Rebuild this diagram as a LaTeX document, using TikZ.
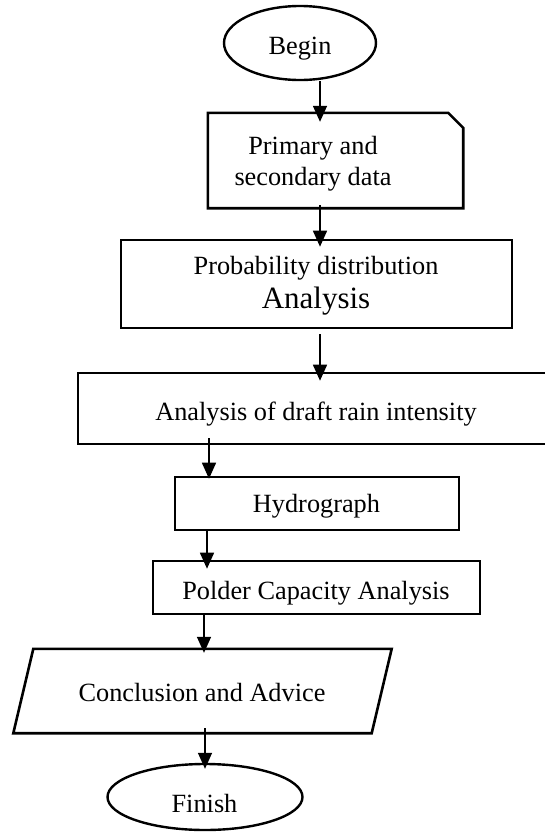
\documentclass[tikz,border=0pt]{standalone}
\usepackage{fontspec}
\setmainfont{Liberation Serif}
\usetikzlibrary{arrows.meta,shapes.geometric}
\begin{document}
\begin{tikzpicture}[x=1pt,y=-1pt,
  txt/.style={inner sep=0pt, anchor=base, font=\fontsize{26.3}{31}\selectfont},
  bigtxt/.style={txt, font=\fontsize{31}{36}\selectfont},
  frame/.style={draw, line width=2.6pt, inner sep=0pt},
  blank/.style={inner sep=0pt},
  oval/.style={draw, ellipse, line width=2.4pt, inner sep=0pt},
  arr/.style={line width=1.5pt, -{Triangle[width=14pt,length=16pt]}}]
\useasboundingbox (0,0) rectangle (544,833);

% start terminal
\node[oval, minimum width=152pt, minimum height=74pt] (begin) at (300,43) {};
\node[txt] (begin-t) at (300,54) {Begin};

% data box with a cut top-right corner
\node[blank, minimum width=255pt, minimum height=95pt] (data) at (335.5,160.5) {};
\draw[line width=2.6pt] (data.south west) -- (data.north west)
  -- ([xshift=-15pt]data.north east) -- ([yshift=-15pt]data.north east)
  -- (data.south east) -- cycle;
\node[txt] (data-t1) at (313,154) {Primary and};
\node[txt] (data-t2) at (313,185) {secondary data};

% process boxes
\node[frame, minimum width=391pt, minimum height=88pt] (prob) at (316.5,284) {};
\node[txt] (prob-t1) at (316,274) {Probability distribution};
\node[bigtxt] (prob-t2) at (316,308) {Analysis};

\node[frame, minimum width=478pt, minimum height=71pt] (rain) at (317,408.5) {};
\node[txt] (rain-t) at (316,420) {Analysis of draft rain intensity};

\node[frame, minimum width=284pt, minimum height=53pt] (hydro) at (317,503.5) {};
\node[txt] (hydro-t) at (316.5,512) {Hydrograph};

\node[frame, minimum width=327pt, minimum height=53pt] (polder) at (316.5,587.5) {};
\node[txt] (polder-t) at (316,599) {Polder Capacity Analysis};

% output parallelogram
\node[blank, minimum width=358pt, minimum height=84pt] (concl) at (202.5,691) {};
\draw[line width=2.6pt] ([xshift=10pt]concl.north west) -- ([xshift=10pt]concl.north east)
  -- ([xshift=-10pt]concl.south east) -- ([xshift=-10pt]concl.south west) -- cycle;
\node[txt] (concl-t) at (202,701) {Conclusion and Advice};

% end terminal
\node[oval, minimum width=195pt, minimum height=66pt] (finish) at (205,797) {};
\node[txt] (finish-t) at (204.5,812) {Finish};

% connector columns
\coordinate (c1) at (320,0);
\coordinate (c4) at (209,0);
\coordinate (c5) at (207,0);
\coordinate (c6) at (204,0);
\coordinate (c7) at (205,0);

\draw[arr, shorten >=-9pt] (begin.south -| c1) -- (data.north -| c1);
\draw[arr, shorten <=-3pt, shorten >=-8pt] (data.south -| c1) -- (prob.north -| c1);
\draw[arr, shorten <=5pt, shorten >=-9pt] (prob.south -| c1) -- (rain.north -| c1);
\draw[arr, shorten <=-7pt, shorten >=-3pt] (rain.south -| c4) -- (hydro.north -| c4);
\draw[arr, shorten <=-2pt, shorten >=-9pt] (hydro.south -| c5) -- (polder.north -| c5);
\draw[arr, shorten <=-2pt, shorten >=-4pt] (polder.south -| c6) -- (concl.north -| c6);
\draw[arr, shorten <=-5pt, shorten >=-6pt] (concl.south -| c7) -- (finish.north -| c7);
\end{tikzpicture}
\end{document}
